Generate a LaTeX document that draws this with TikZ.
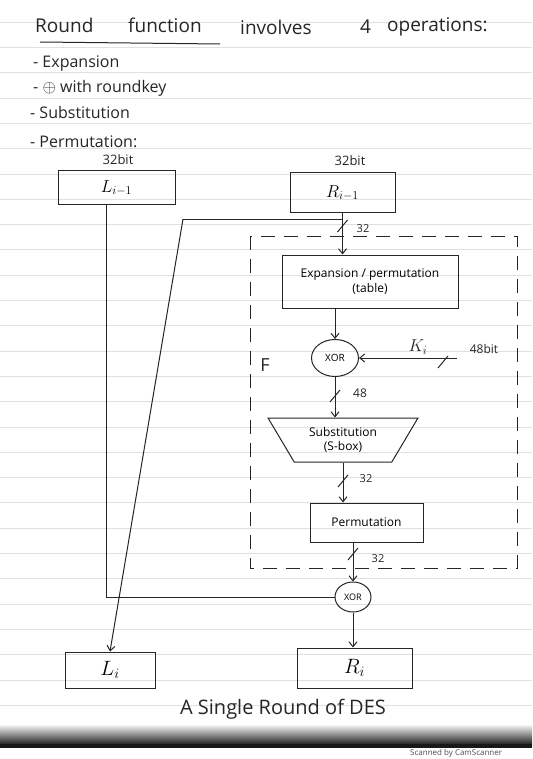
\documentclass[tikz,border=0pt]{standalone}
\usepackage{fontspec}
\setmainfont{Open Sans}
\usetikzlibrary{arrows.meta,shapes.geometric}
\tikzset{
  ink/.style={draw=black!85, line width=1pt},
  arr/.style={ink, -{Straight Barb[length=5pt,width=8pt]}},
  blockbox/.style={ink, rectangle, inner sep=2pt, font=\fontsize{18}{20}\selectfont},
  xorshape/.style={ink, ellipse, inner sep=0pt, font=\fontsize{10}{12}\selectfont},
  lbl/.style={font=\fontsize{13}{15}\selectfont, text=black!85, inner sep=0pt},
  listitem/.style={font=\fontsize{16}{18}\selectfont, text=black!85, anchor=west, inner sep=0pt},
  titleword/.style={font=\fontsize{19}{21}\selectfont, text=black!85, anchor=west, inner sep=0pt},
  ruled/.style={draw=black!12, line width=0.5pt},
  fbox/.style={ink, dash pattern=on 14pt off 9pt},
  busmark/.pic={\draw[ink] (-5,6) -- (5,-6);}
}
\begin{document}
\begin{tikzpicture}[x=1pt,y=-1pt]
\useasboundingbox (0,0) rectangle (532,759);
\fill[white] (0,0) rectangle (532,759);
% ruled paper
\foreach \k in {0,...,27} {\draw[ruled] (0,{22+25.3*\k}) -- (532,{22+25.3*\k});}

% title and list
\node[titleword] (t1) at (35,25) {Round};
\node[titleword] (t2) at (128,25) {function};
\node[titleword] (t3) at (240,27) {involves};
\node[titleword] (t4) at (360,27) {4};
\node[titleword] (t5) at (387,27) {operations:};
\draw[ink] (40,42) -- (220,44);
\node[listitem] (l1) at (33,64) {- Expansion};
\node[listitem] (l2) at (33,88) {- $\oplus$ with roundkey};
\node[listitem] (l3) at (30,113) {- Substitution};
\node[listitem] (l4) at (30,142) {- Permutation:};

% top blocks
\node[blockbox, minimum width=117pt, minimum height=34pt] (Lm1) at (116.5,188) {$L_{i-1}$};
\node[lbl] (b1) at (118,160) {32bit};
\node[blockbox, minimum width=105pt, minimum height=40pt] (Rm1) at (342.5,193) {$R_{i-1}$};
\node[lbl] (b2) at (350,161) {32bit};

% F dashed box
\draw[fbox] (250,236) rectangle (517,568);
\node[font=\fontsize{18}{20}\selectfont, text=black!85] (F) at (265,365) {F};

% function blocks
\node[blockbox, minimum width=176pt, minimum height=53pt, align=center, font=\fontsize{12}{15}\selectfont] (Exp) at (370,281.5) {Expansion / permutation\\(table)};
\node[xorshape, minimum width=47pt, minimum height=37pt] (X1) at (335,358) {XOR};
\node[ink, trapezium, trapezium angle=54, shape border rotate=180, trapezium stretches=true, minimum width=150pt, minimum height=44pt, inner sep=0pt, align=center, font=\fontsize{12}{14}\selectfont] (Sub) at (343,440) {Substitution\\(S-box)};
\node[blockbox, minimum width=113pt, minimum height=39pt, font=\fontsize{12}{14}\selectfont] (Perm) at (366.5,522.5) {Permutation};
\node[xorshape, minimum width=36pt, minimum height=30pt, font=\fontsize{9}{11}\selectfont] (X2) at (353,597) {XOR};

% output blocks
\node[blockbox, minimum width=90pt, minimum height=36pt, font=\fontsize{20}{22}\selectfont] (Li) at (110,670) {$L_i$};
\node[blockbox, minimum width=115pt, minimum height=40pt, font=\fontsize{20}{22}\selectfont] (Ri) at (354.5,668) {$R_i$};
\node[font=\fontsize{20}{22}\selectfont, text=black!85] (cap) at (283,709) {A Single Round of DES};

% connectors
\coordinate (split) at (342.5,219);
\coordinate (bend) at (183,219);
\draw[arr] (Rm1.south) -- (Rm1.south |- Exp.north);
\pic at (342.5,226) {busmark};
\node[lbl, font=\fontsize{11}{13}\selectfont] (w32a) at (363,229) {32};
\draw[ink] (split) -- (bend);
\draw[arr] (bend) -- (Li.north);

\draw[arr] (X1 |- Exp.south) -- (X1.north);
\coordinate (kin) at (457,358);
\draw[arr] (kin) -- (X1.east);
\pic at (443,362) {busmark};
\node[lbl, font=\fontsize{17}{19}\selectfont] (ki) at (418,347) {$K_i$};
\node[lbl, font=\fontsize{12}{14}\selectfont] (k48) at (484,349) {48bit};

\draw[arr] (X1.south) -- (X1.south |- Sub.north);
\pic at (335,396) {busmark};
\node[lbl, font=\fontsize{12}{14}\selectfont] (w48) at (360,393) {48};

\draw[arr] (Sub.south) -- (Sub.south |- Perm.north);
\pic at (343,481) {busmark};
\node[lbl, font=\fontsize{11}{13}\selectfont] (w32b) at (366,479) {32};

\draw[arr] (X2 |- Perm.south) -- (X2.north);
\pic at (353,554) {busmark};
\node[lbl, font=\fontsize{11}{13}\selectfont] (w32c) at (378,559) {32};

\coordinate (lcorner) at (106,597);
\draw[ink] (Lm1.south -| lcorner) -- (lcorner) -- (X2.west);
\draw[arr] (X2.south) -- (X2.south |- Ri.north);

% scanned bottom band
\shade[top color=white, bottom color=black!90] (0,724) rectangle (532,745);
\fill[black!90] (0,744) rectangle (532,748);
\node[anchor=south west, inner sep=0pt, font=\fontsize{8}{9}\selectfont, text=black!70] (scan) at (410,758) {Scanned by CamScanner};
\end{tikzpicture}
\end{document}
